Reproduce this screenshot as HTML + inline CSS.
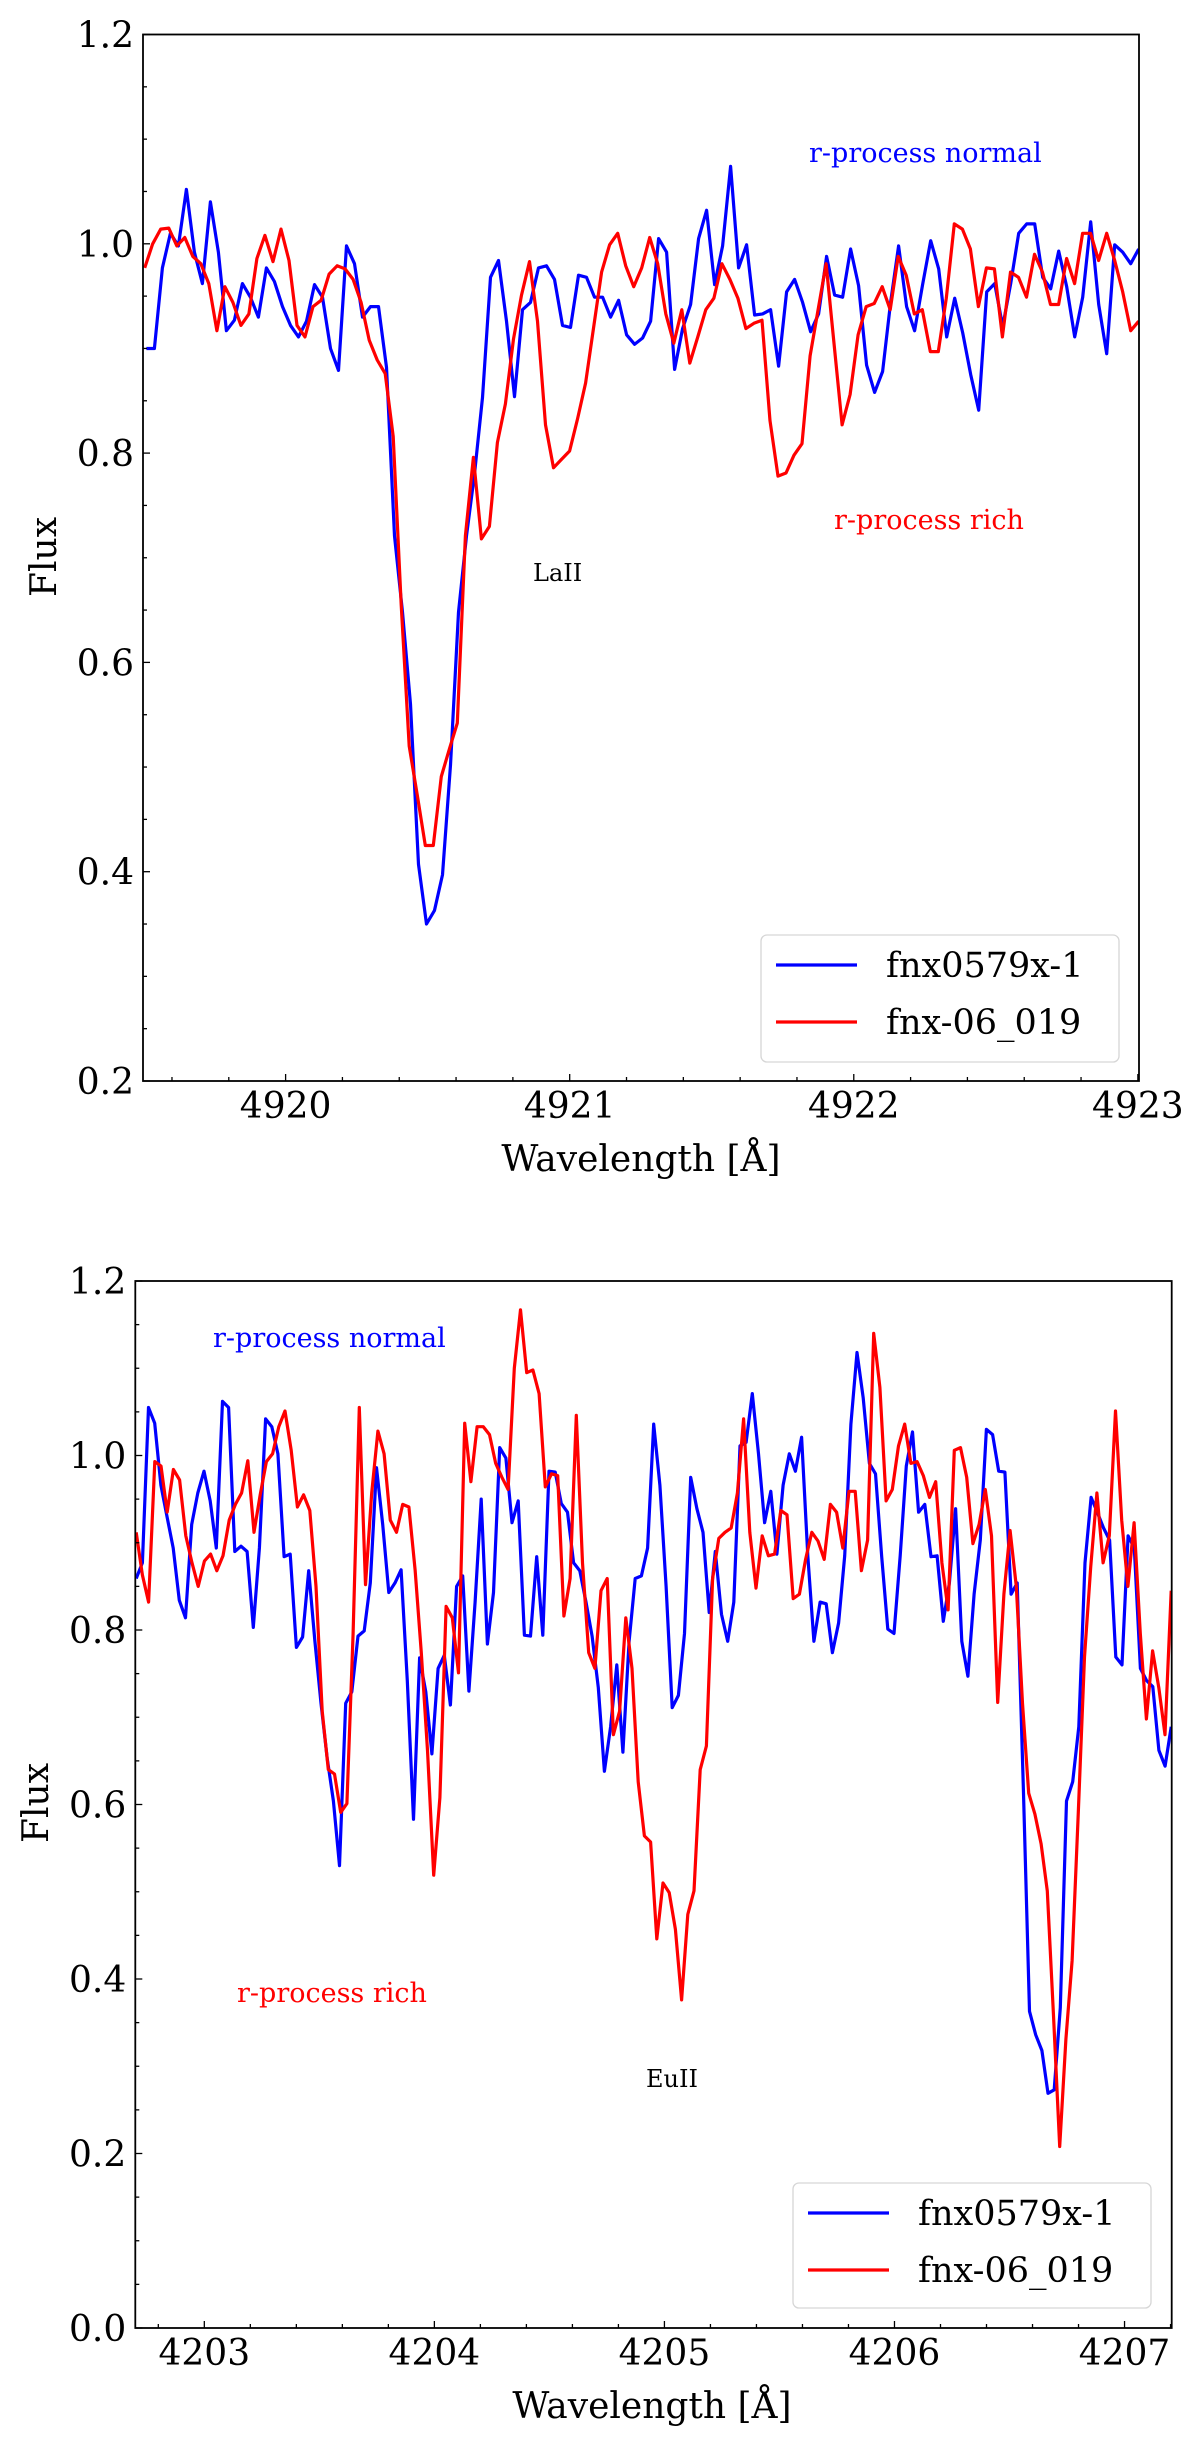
<!DOCTYPE html>
<html><head><meta charset="utf-8"><style>
html,body{margin:0;padding:0;background:#fff;}
svg{display:block;font-family:"DejaVu Serif","Liberation Serif",serif;}
</style></head><body>
<svg id="fig" width="1200" height="2442" viewBox="0 0 1200 2442" xmlns="http://www.w3.org/2000/svg">
<rect width="1200" height="2442" fill="#fff"/>
<g id="p1"></g>
<g id="p2"></g>
</svg>
<script>
// ---- Panel 1 data (La II 4921 region) ----
const p1XRange = [4919.498, 4923.004];
const p1YRange = [0.2, 1.2];
const p1XTicks = [4920, 4921, 4922, 4923];
const p1YTicks = [0.2, 0.4, 0.6, 0.8, 1.0, 1.2];
const p1BlueLam = [4919.510, 4923.003];
const p1BlueFlux = [0.900,0.900,0.977,1.010,0.998,1.052,0.992,0.962,1.040,0.992,0.917,0.927,0.962,0.949,0.930,0.977,0.964,0.940,0.922,0.911,0.926,0.961,0.949,0.900,0.879,0.998,0.981,0.930,0.940,0.940,0.882,0.721,0.648,0.560,0.407,0.350,0.363,0.397,0.502,0.648,0.721,0.780,0.853,0.968,0.984,0.926,0.854,0.937,0.944,0.977,0.979,0.966,0.922,0.920,0.970,0.968,0.949,0.949,0.930,0.946,0.913,0.904,0.910,0.926,1.005,0.992,0.880,0.919,0.942,1.005,1.032,0.961,0.998,1.074,0.977,0.999,0.932,0.933,0.937,0.883,0.954,0.966,0.944,0.916,0.933,0.988,0.951,0.949,0.995,0.960,0.884,0.858,0.878,0.944,0.998,0.940,0.917,0.961,1.003,0.976,0.911,0.948,0.915,0.875,0.841,0.954,0.962,0.921,0.962,1.010,1.019,1.019,0.968,0.957,0.993,0.959,0.911,0.949,1.021,0.942,0.895,0.999,0.992,0.981,0.995];
const p1RedLam = [4919.504, 4923.003];
const p1RedFlux = [0.977,1.000,1.014,1.015,0.998,1.006,0.988,0.981,0.962,0.917,0.959,0.944,0.922,0.933,0.986,1.008,0.983,1.014,0.984,0.922,0.911,0.940,0.946,0.971,0.979,0.976,0.966,0.944,0.908,0.889,0.876,0.816,0.655,0.520,0.473,0.425,0.425,0.491,0.517,0.542,0.721,0.796,0.718,0.730,0.810,0.847,0.909,0.951,0.983,0.926,0.827,0.786,0.794,0.802,0.833,0.867,0.920,0.973,0.999,1.010,0.979,0.959,0.977,1.006,0.981,0.933,0.905,0.937,0.886,0.911,0.937,0.948,0.981,0.966,0.948,0.919,0.924,0.927,0.831,0.778,0.781,0.798,0.809,0.893,0.937,0.981,0.904,0.827,0.856,0.913,0.940,0.943,0.959,0.937,0.988,0.970,0.933,0.937,0.897,0.897,0.948,1.019,1.014,0.995,0.940,0.977,0.976,0.911,0.973,0.968,0.949,0.990,0.973,0.942,0.942,0.986,0.962,1.010,1.010,0.984,1.010,0.984,0.954,0.917,0.926];

// ---- Panel 2 data (Eu II 4205 region) ----
const p2XRange = [4202.70, 4207.205];
const p2YRange = [0.0, 1.2];
const p2XTicks = [4203, 4204, 4205, 4206, 4207];
const p2YTicks = [0.0, 0.2, 0.4, 0.6, 0.8, 1.0, 1.2];
const p2BlueLam = [4202.704, 4207.203];
const p2BlueFlux = [0.859,0.877,1.055,1.037,0.966,0.930,0.894,0.834,0.814,0.921,0.957,0.982,0.948,0.894,1.062,1.055,0.890,0.896,0.890,0.803,0.894,1.042,1.033,1.002,0.884,0.887,0.780,0.792,0.868,0.787,0.716,0.653,0.604,0.530,0.716,0.729,0.793,0.799,0.854,0.986,0.921,0.843,0.854,0.869,0.742,0.583,0.768,0.729,0.658,0.756,0.771,0.714,0.850,0.862,0.730,0.832,0.950,0.784,0.843,1.009,0.997,0.923,0.948,0.794,0.793,0.884,0.794,0.982,0.981,0.945,0.935,0.877,0.868,0.832,0.793,0.734,0.638,0.689,0.760,0.660,0.787,0.859,0.862,0.894,1.036,0.966,0.850,0.711,0.725,0.796,0.975,0.939,0.912,0.820,0.890,0.818,0.787,0.832,1.011,1.015,1.071,1.002,0.923,0.959,0.887,0.966,1.002,0.982,1.021,0.885,0.787,0.832,0.830,0.774,0.808,0.885,1.036,1.118,1.066,0.991,0.979,0.884,0.801,0.796,0.885,0.988,1.027,0.935,0.944,0.884,0.885,0.810,0.854,0.939,0.787,0.747,0.841,0.903,1.030,1.024,0.982,0.981,0.841,0.854,0.617,0.363,0.336,0.318,0.269,0.273,0.367,0.604,0.626,0.689,0.877,0.952,0.935,0.917,0.903,0.769,0.760,0.908,0.894,0.756,0.742,0.735,0.662,0.644,0.689];
const p2RedLam = [4202.704, 4207.203];
const p2RedFlux = [0.912,0.863,0.832,0.993,0.988,0.935,0.984,0.972,0.908,0.877,0.850,0.879,0.887,0.868,0.885,0.926,0.944,0.957,0.994,0.912,0.955,0.993,1.002,1.033,1.051,1.006,0.941,0.955,0.937,0.850,0.707,0.640,0.635,0.591,0.601,0.796,1.055,0.852,0.957,1.028,1.002,0.926,0.912,0.944,0.941,0.869,0.774,0.662,0.519,0.608,0.827,0.814,0.751,1.037,0.970,1.033,1.033,1.024,0.991,0.975,0.961,1.100,1.167,1.095,1.098,1.071,0.964,0.979,0.977,0.816,0.859,1.046,0.877,0.774,0.756,0.845,0.859,0.680,0.707,0.814,0.756,0.626,0.564,0.557,0.446,0.510,0.499,0.457,0.376,0.474,0.501,0.640,0.667,0.859,0.905,0.912,0.917,0.957,1.042,0.912,0.848,0.908,0.885,0.887,0.937,0.932,0.836,0.841,0.881,0.912,0.902,0.881,0.944,0.935,0.894,0.959,0.959,0.868,0.903,1.140,1.078,0.948,0.961,1.011,1.036,0.991,0.993,0.977,0.952,0.970,0.877,0.823,1.006,1.009,0.975,0.899,0.921,0.961,0.908,0.717,0.841,0.914,0.850,0.716,0.613,0.589,0.555,0.501,0.358,0.208,0.331,0.421,0.591,0.769,0.872,0.957,0.877,0.908,1.051,0.926,0.850,0.923,0.796,0.698,0.776,0.734,0.680,0.845];

const NS = "http://www.w3.org/2000/svg";
function mk(parent, tag, attrs, text) {
  const e = document.createElementNS(NS, tag);
  for (const k in attrs) e.setAttribute(k, attrs[k]);
  if (text !== undefined) e.textContent = text;
  parent.appendChild(e);
  return e;
}

function drawPanel(g, box, xr, yr, xt, yt, yDec, series, labels, legendBox, xTitle, fluxPos) {
  const sx = v => box.l + (v - xr[0]) / (xr[1] - xr[0]) * (box.r - box.l);
  const sy = v => box.b - (v - yr[0]) / (yr[1] - yr[0]) * (box.b - box.t);
  const clip = mk(g, "clipPath", {id: g.id + "clip"});
  mk(clip, "rect", {x: box.l, y: box.t, width: box.r - box.l, height: box.b - box.t});
  series.forEach(s => {
    const n = s.flux.length;
    const pts = s.flux.map((f, i) => {
      const lam = s.lam[0] + (s.lam[1] - s.lam[0]) * i / (n - 1);
      return sx(lam).toFixed(1) + "," + sy(f).toFixed(1);
    }).join(" ");
    const pl = mk(g, "polyline", {points: pts, fill: "none", stroke: s.color, "stroke-width": 3.2, "stroke-linejoin": "round", "clip-path": "url(#" + g.id + "clip)"});
    
    
  });
  const fr = mk(g, "rect", {x: box.l, y: box.t, width: box.r - box.l, height: box.b - box.t, fill: "none", stroke: "#000", "stroke-width": 1.8});
  
  
  for (let v = Math.ceil(xr[0] * 5) / 5; v <= xr[1] + 1e-9; v += 0.2) {
    const x = sx(v);
    const major = Math.abs(v - Math.round(v)) < 1e-6;
    mk(g, "line", {x1: x, x2: x, y1: box.b, y2: box.b - (major ? 7 : 4), stroke: "#000", "stroke-width": 1.3});
  }
  xt.forEach(v => {
    const t = mk(g, "text", {x: sx(v), y: box.b + 37, "text-anchor": "middle", "font-size": 36}, String(v));
    
    
  });
  for (let k = Math.round(yr[0] * 20); k <= Math.round(yr[1] * 20); k++) {
    const y = sy(k / 20);
    const major = k % 4 === 0;
    mk(g, "line", {x1: box.l, x2: box.l + (major ? 7 : 4), y1: y, y2: y, stroke: "#000", "stroke-width": 1.3});
  }
  yt.forEach(v => {
    const t = mk(g, "text", {x: box.l - 9, y: sy(v) + 13, "text-anchor": "end", "font-size": 36}, v.toFixed(yDec));
    
    
  });
  const xtl = mk(g, "text", {x: xTitle.x, y: xTitle.y, "text-anchor": "middle", "font-size": 36}, "Wavelength [Å]");
  
  
  const ytl = mk(g, "text", {x: 0, y: 0, "text-anchor": "middle", "font-size": 36, transform: "translate(" + (fluxPos.x + 12) + "," + fluxPos.y + ") rotate(-90)"}, "Flux");
  
  
  labels.forEach(L => {
    const t = mk(g, "text", {x: L.x, y: L.y, fill: L.color, "font-size": L.size}, L.text);
    
    
  });
  const lg = mk(g, "g", {});
  
  
  mk(lg, "rect", {x: legendBox.x, y: legendBox.y, width: legendBox.w, height: legendBox.h, rx: 6, fill: "#fff", "fill-opacity": 0.85, stroke: "#d6d6d6", "stroke-width": 1.3});
  series.forEach((s, i) => {
    const y = legendBox.y + 30 + i * 57;
    mk(lg, "line", {x1: legendBox.x + 15, x2: legendBox.x + 96, y1: y, y2: y, stroke: s.color, "stroke-width": 3.2});
    const t = mk(lg, "text", {x: legendBox.x + 125, y: y + 12, "font-size": 35}, s.label);
    
    
  });
}

drawPanel(document.getElementById("p1"), {l: 143, r: 1139, t: 34.5, b: 1081}, p1XRange, p1YRange, p1XTicks, p1YTicks, 1,
  [{name: "fnx0579x-1-line", label: "fnx0579x-1", color: "#0000ff", lam: p1BlueLam, flux: p1BlueFlux},
   {name: "fnx-06_019-line", label: "fnx-06_019", color: "#ff0000", lam: p1RedLam, flux: p1RedFlux}],
  [{name: "r-process-normal-label", text: "r-process normal", x: 809, y: 162, color: "#0000ff", size: 27},
   {name: "r-process-rich-label", text: "r-process rich", x: 834, y: 529, color: "#ff0000", size: 27},
   {name: "la-ii-label", text: "LaII", x: 533, y: 581, color: "#000", size: 24}],
  {x: 761, y: 935, w: 358, h: 127}, {x: 641, y: 1171}, {x: 44, y: 557});

drawPanel(document.getElementById("p2"), {l: 135.3, r: 1171.7, t: 1281, b: 2328}, p2XRange, p2YRange, p2XTicks, p2YTicks, 1,
  [{name: "fnx0579x-1-line", label: "fnx0579x-1", color: "#0000ff", lam: p2BlueLam, flux: p2BlueFlux},
   {name: "fnx-06_019-line", label: "fnx-06_019", color: "#ff0000", lam: p2RedLam, flux: p2RedFlux}],
  [{name: "r-process-normal-label", text: "r-process normal", x: 213, y: 1347, color: "#0000ff", size: 27},
   {name: "r-process-rich-label", text: "r-process rich", x: 237, y: 2002, color: "#ff0000", size: 27},
   {name: "eu-ii-label", text: "EuII", x: 646, y: 2087, color: "#000", size: 24}],
  {x: 793, y: 2183, w: 358, h: 125}, {x: 652, y: 2418}, {x: 36, y: 1803});
</script>
</body></html>
